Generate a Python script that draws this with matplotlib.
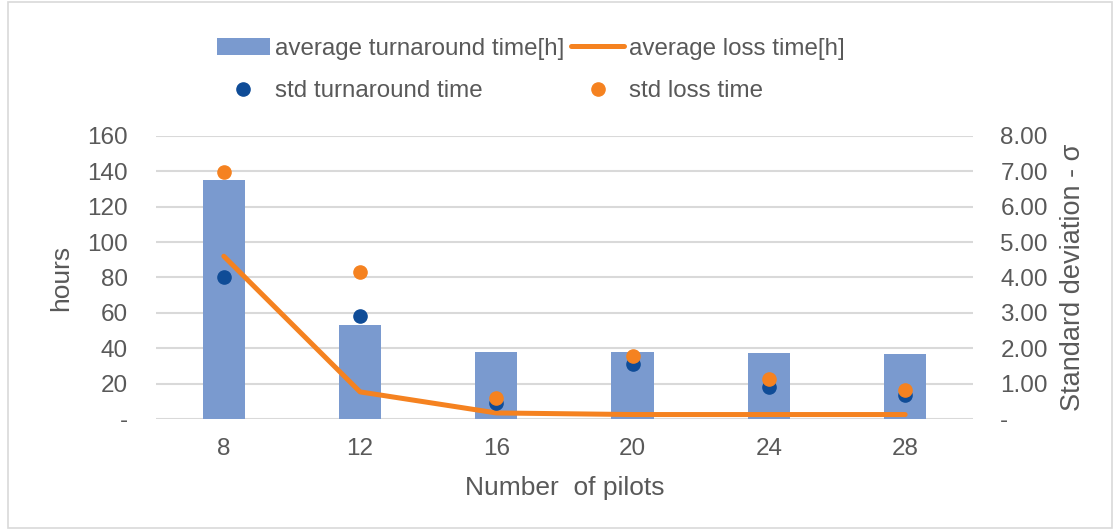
import numpy as np
import matplotlib.pyplot as plt
from matplotlib.patches import Rectangle

plt.rcParams['font.family'] = ['Liberation Sans', 'DejaVu Sans']

pilots = ['8', '12', '16', '20', '24', '28']
avg_turnaround = [135, 53, 38, 38, 37.5, 36.5]
avg_loss = [92, 15.3, 3.4, 2.5, 2.5, 2.5]
std_turnaround = [4.01, 2.91, 0.46, 1.55, 0.90, 0.68]
std_loss = [6.98, 4.16, 0.59, 1.78, 1.13, 0.82]

grey = '#595959'
bar_col = '#7A9ACF'
orange = '#F58220'
navy = '#0F4C97'

fig = plt.figure(figsize=(11.2, 5.31), dpi=100)
fig.patches.append(Rectangle((0.007, 0.006), 0.986, 0.99, transform=fig.transFigure,
                             fill=False, edgecolor='#D9D9D9', linewidth=1.2))
ax = fig.add_axes([0.139, 0.211, 0.730, 0.533])
ax2 = ax.twinx()

x = np.arange(len(pilots))
bars = ax.bar(x, avg_turnaround, width=0.31, color=bar_col, zorder=2)
line, = ax.plot(x, avg_loss, color=orange, linewidth=3.6, solid_capstyle='round', zorder=3)
d1, = ax2.plot(x, std_turnaround, 'o', color=navy, markersize=9.5, zorder=4)
d2, = ax2.plot(x, std_loss, 'o', color=orange, markersize=9.5, zorder=5)

ax.set_zorder(ax2.get_zorder() - 1)
ax.patch.set_visible(True)
ax2.patch.set_visible(False)

ax.set_xlim(-0.5, len(pilots) - 0.5)
ax.set_ylim(0, 160)
ax2.set_ylim(0, 8)
ax.set_yticks(np.arange(0, 161, 20))
ax.set_yticklabels(['-'] + [str(v) for v in range(20, 161, 20)])
ax2.set_yticks(np.arange(0, 8.1, 1))
ax2.set_yticklabels(['-'] + ['%.2f' % v for v in range(1, 9)])
ax.set_xticks(x)
ax.set_xticklabels(pilots)

ax.grid(axis='y', color='#D9D9D9', linewidth=1.5, zorder=0)
for a in (ax, ax2):
    for s in a.spines.values():
        s.set_visible(False)
    a.tick_params(length=0, colors=grey, labelsize=17.5)
ax.tick_params(axis='y', pad=20)
ax2.tick_params(axis='y', pad=19.5)
ax.tick_params(axis='x', pad=14)

ax.set_ylabel('hours', color=grey, fontsize=19, labelpad=10)
ax2.set_ylabel('Standard deviation - σ', color=grey, fontsize=19.5, labelpad=9)
ax.set_xlabel('Number  of pilots', color=grey, fontsize=19, labelpad=11.5)

leg = fig.legend([bars, d1, line, d2],
                 ['average turnaround time[h]', 'std turnaround time',
                  'average loss time[h]', 'std loss time'],
                 ncol=2, loc='center', bbox_to_anchor=(0.474, 0.868),
                 frameon=False, fontsize=17.4, labelcolor=grey,
                 handlelength=2.2, handletextpad=0.2, columnspacing=0.3,
                 labelspacing=0.86, borderpad=0)

fig.savefig('out.png', dpi=100)
